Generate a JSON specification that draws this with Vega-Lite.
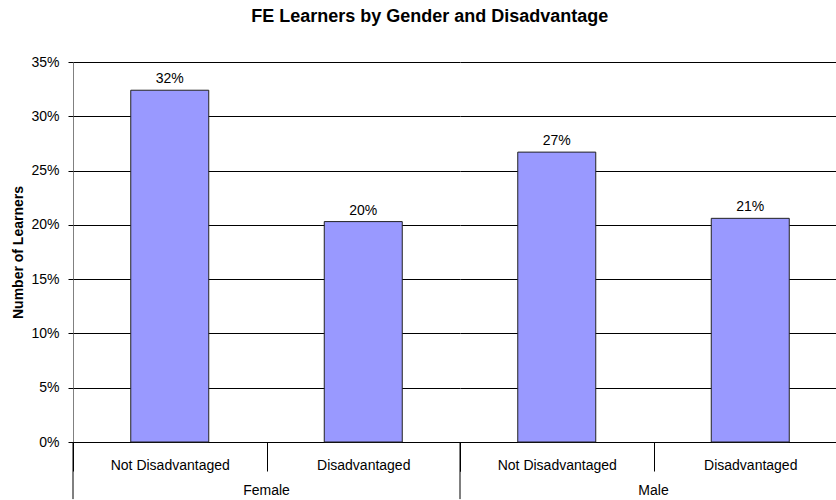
{
  "$schema": "https://vega.github.io/schema/vega-lite/v6.json",
  "background": "white",
  "padding": {"left": 11, "top": 8, "right": 0, "bottom": 0},
  "bounds": "flush",
  "title": {"text": "FE Learners by Gender and Disadvantage", "font": "Liberation Sans", "fontSize": 18, "fontWeight": "bold", "color": "black", "anchor": "middle", "offset": 29},
  "data": {"values": [
    {"gender": "Female", "status": "Not Disadvantaged", "value": 0.324},
    {"gender": "Female", "status": "Disadvantaged", "value": 0.203},
    {"gender": "Male", "status": "Not Disadvantaged", "value": 0.267},
    {"gender": "Male", "status": "Disadvantaged", "value": 0.206}
  ]},
  "spacing": 0,
  "facet": {"column": {"field": "gender", "type": "nominal", "sort": ["Female", "Male"],
    "header": {"title": null, "labelOrient": "bottom", "labelFont": "Liberation Sans", "labelFontSize": 14, "labelColor": "black", "labelPadding": 12}}},
  "spec": {
    "width": 387,
    "height": 380,
    "encoding": {
      "x": {"field": "status", "type": "nominal", "sort": ["Not Disadvantaged", "Disadvantaged"],
        "scale": {"paddingInner": 0, "paddingOuter": 0},
        "axis": {"title": null, "labelAngle": 0, "tickBand": "extent", "tickSize": 29, "tickColor": "black", "domainColor": "black", "labelFont": "Liberation Sans", "labelFontSize": 14, "labelColor": "black", "labelPadding": -13}}
    },
    "layer": [
      {"mark": {"type": "bar", "fill": "#9999FF", "stroke": "#222222", "strokeWidth": 1, "width": 78},
       "encoding": {"y": {"field": "value", "type": "quantitative", "scale": {"domain": [0, 0.35], "nice": false},
         "axis": {"title": "Number of Learners", "titleFont": "Liberation Sans", "titleFontSize": 14, "titleFontWeight": "bold", "titleColor": "black", "titlePadding": 5,
           "values": [0, 0.05, 0.1, 0.15, 0.2, 0.25, 0.3, 0.35], "format": ".0%", "labelFont": "Liberation Sans", "labelFontSize": 14, "labelColor": "black", "labelPadding": 9,
           "tickSize": 5, "tickColor": "black", "domainColor": "#808080", "grid": true, "gridColor": "black", "gridOpacity": 1}}}},
      {"mark": {"type": "text", "baseline": "bottom", "dy": -4, "font": "Liberation Sans", "fontSize": 14, "color": "black"},
       "encoding": {"y": {"field": "value", "type": "quantitative"}, "text": {"field": "value", "type": "quantitative", "format": ".0%"}}},
      {"transform": [{"filter": "datum.status == 'Not Disadvantaged'"}],
       "mark": {"type": "rule", "color": "black", "strokeWidth": 1},
       "encoding": {"x": {"field": "status", "type": "nominal", "bandPosition": 0}, "y": {"datum": 0}, "y2": {"datum": -0.0526}}}
    ]
  },
  "config": {"view": {"stroke": null}}
}
